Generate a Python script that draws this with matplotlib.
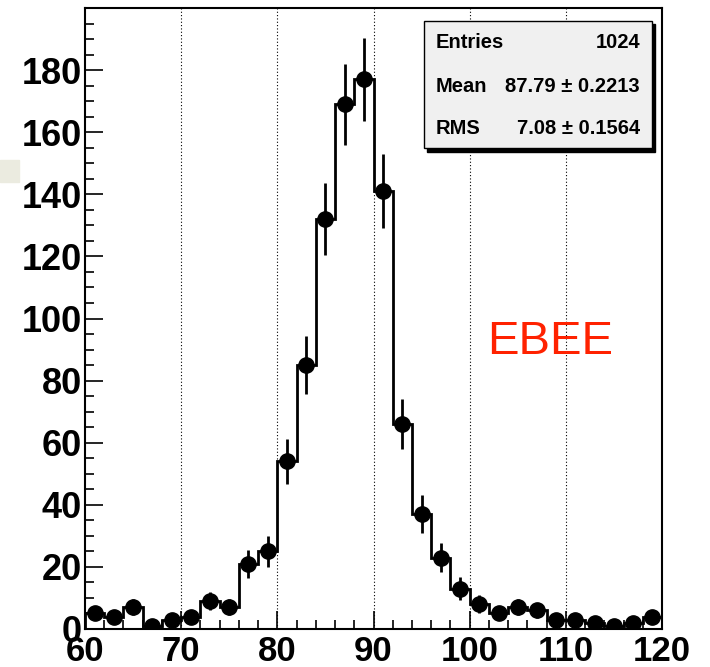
import numpy as np
import matplotlib.pyplot as plt
from matplotlib.patches import Rectangle
from matplotlib.ticker import MultipleLocator, FixedLocator

# bin edges 60..120, width 2
edges = np.arange(60, 122, 2)
counts = [5, 4, 7, 1, 3, 4, 9, 7, 21, 25,
          54, 85, 132, 169, 177, 141, 66, 37, 23, 13,
          8, 5, 7, 6, 3, 3, 2, 1, 2, 4]
stat_names = ["Entries", "Mean", "RMS"]
stat_values = ["1024", "87.79 \u00b1 0.2213", "7.08 \u00b1 0.1564"]
label = "EBEE"

W, H = 710, 667
plt.rcParams["font.family"] = ["Liberation Sans", "DejaVu Sans"]

fig = plt.figure(figsize=(W / 100, H / 100), dpi=100)


def fx(px):
    return px / W


def fy(py):
    return 1 - py / H


ax = fig.add_axes([fx(85), fy(629), fx(662) - fx(85), fy(8) - fy(629)])

counts = np.array(counts)
centers = (edges[:-1] + edges[1:]) / 2
ax.stairs(counts, edges, color="black", lw=2, zorder=3)
ax.errorbar(centers, counts, yerr=np.sqrt(counts), fmt="o", color="black",
            ms=11, elinewidth=2, capsize=0, zorder=4)

ax.set_xlim(60, 120)
ax.set_ylim(0, 200)
ax.xaxis.set_major_locator(MultipleLocator(10))
ax.xaxis.set_minor_locator(MultipleLocator(2))
ax.yaxis.set_major_locator(FixedLocator(np.arange(0, 181, 20)))
ax.yaxis.set_minor_locator(MultipleLocator(5))
ax.tick_params(which="both", direction="in", width=1.2)
ax.tick_params(which="major", length=13)
ax.tick_params(which="minor", length=6.5)
ax.tick_params(axis="x", labelsize=25, pad=4)
ax.tick_params(axis="y", labelsize=26, pad=2)
for t in ax.get_xticklabels() + ax.get_yticklabels():
    t.set_fontweight("bold")
for s in ax.spines.values():
    s.set_linewidth(1.5)

for x in [70, 80, 90, 100, 110]:
    ax.axvline(x, color="black", ls=(0, (1, 2)), lw=0.8, zorder=1)

ax.text(101.8, 92.5, label, color="#ff2200", fontsize=34, va="center", ha="left")

# stats box with shadow
fig.patches.append(Rectangle((fx(427), fy(152)), fx(655) - fx(427), fy(24) - fy(152),
                             transform=fig.transFigure, color="black", zorder=5))
fig.patches.append(Rectangle((fx(424), fy(148)), fx(652) - fx(424), fy(21) - fy(148),
                             transform=fig.transFigure, facecolor="#f0f0f0",
                             edgecolor="black", lw=1, zorder=6))
for i, (n, v) in enumerate(zip(stat_names, stat_values)):
    y = fy(43 + i * 43)
    fig.text(fx(436), y, n, fontsize=14.5, fontweight="bold", va="center", ha="left", zorder=7)
    fig.text(fx(640), y, v, fontsize=14.5, fontweight="bold", va="center", ha="right", zorder=7)

# small beige patch at the left edge
fig.patches.append(Rectangle((0, fy(182)), fx(19), fy(160) - fy(182),
                             transform=fig.transFigure, color="#ebebe0", zorder=0))

fig.savefig("out.png", dpi=100)
